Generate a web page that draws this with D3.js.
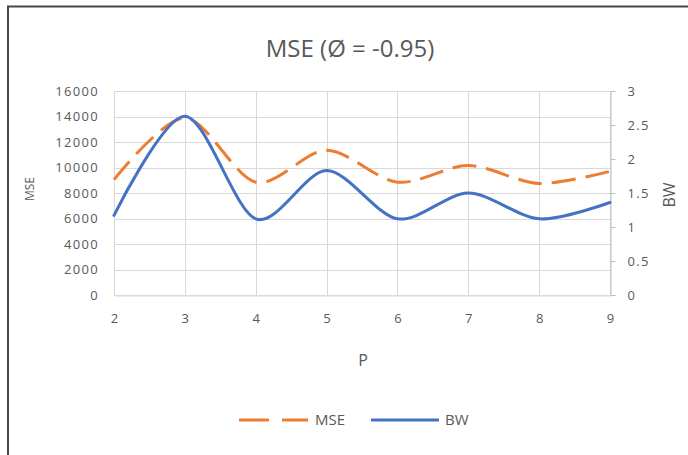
<!DOCTYPE html>
<html>
<head>
<meta charset="utf-8">
<script src="https://cdn.jsdelivr.net/npm/d3@7"></script>
<style>
html,body{margin:0;padding:0;background:#fff;}
svg{display:block;}
text{font-family:"Open Sans","Liberation Sans",sans-serif;fill:#595959;}
</style>
</head>
<body>
<svg id="chart" width="688" height="455"></svg>
<script>
const categories = [2, 3, 4, 5, 6, 7, 8, 9];
const mseValues = [9050, 13900, 8850, 11350, 8850, 10150, 8750, 9700];
const bwValues = [1.17, 2.63, 1.12, 1.83, 1.12, 1.50, 1.12, 1.36];
const leftTicks = [0, 2000, 4000, 6000, 8000, 10000, 12000, 14000, 16000];
const rightTicks = [0, 0.5, 1, 1.5, 2, 2.5, 3];
const titleText = "MSE (Ø = -0.95)";

const svg = d3.select("#chart");
const W = 688, H = 455;
const plot = {left: 114, right: 610, top: 91, bottom: 295};

// background + border
svg.append("rect").attr("x", 0).attr("y", 0).attr("width", W).attr("height", H).attr("fill", "#fff");
svg.append("rect").attr("x", 8).attr("y", 6.5).attr("width", W + 10).attr("height", H)
  .attr("fill", "none").attr("stroke", "#474747").attr("stroke-width", 2);

const x = d3.scaleLinear().domain([2, 9]).range([plot.left, plot.right]);
const yL = d3.scaleLinear().domain([0, 16000]).range([plot.bottom, plot.top]);
const yR = d3.scaleLinear().domain([0, 3]).range([plot.bottom, plot.top]);

// gridlines
const grid = svg.append("g");
grid.selectAll("line.h").data(leftTicks).join("line")
  .attr("x1", plot.left).attr("x2", plot.right)
  .attr("y1", d => Math.round(yL(d)) + 0.5).attr("y2", d => Math.round(yL(d)) + 0.5)
  .attr("stroke", "#d9d9d9").attr("stroke-width", 1);
grid.selectAll("line.v").data(categories).join("line")
  .attr("y1", plot.top).attr("y2", plot.bottom)
  .attr("x1", d => Math.round(x(d)) + 0.5).attr("x2", d => Math.round(x(d)) + 0.5)
  .attr("stroke", "#d9d9d9").attr("stroke-width", 1);

const tickStyle = sel => sel.selectAll("text")
  .style("font-size", "13px").style("letter-spacing", "1.3px").attr("fill", "#595959");

// left axis (labels only)
const leftAxis = svg.append("g").attr("transform", `translate(${plot.left},0)`)
  .call(d3.axisLeft(yL).tickValues(leftTicks).tickSize(0).tickPadding(15).tickFormat(d3.format("d")));
leftAxis.select(".domain").remove();
tickStyle(leftAxis);

// right axis
const rightAxis = svg.append("g").attr("transform", `translate(${Math.round(plot.right) + 0.5},0)`)
  .call(d3.axisRight(yR).tickValues(rightTicks).tickSize(5).tickPadding(12).tickFormat(d => d3.format("")(d)));
rightAxis.select(".domain").attr("stroke", "#bfbfbf");
rightAxis.selectAll(".tick line").attr("stroke", "#bfbfbf");
tickStyle(rightAxis);

// bottom axis
const bottomAxis = svg.append("g").attr("transform", `translate(0,${Math.round(plot.bottom) + 0.5})`)
  .call(d3.axisBottom(x).tickValues(categories).tickSize(0).tickPadding(18).tickFormat(d3.format("d")));
bottomAxis.select(".domain").attr("stroke", "#d9d9d9");
tickStyle(bottomAxis);
bottomAxis.selectAll("text").attr("dx", "0.6px");

// lines
const curve = d3.curveCardinal.tension(0.1);
const mseLine = d3.line().x((d, i) => x(categories[i])).y(d => yL(d)).curve(curve);
const bwLine = d3.line().x((d, i) => x(categories[i])).y(d => yR(d)).curve(curve);

svg.append("path").datum(mseValues).attr("d", mseLine)
  .attr("fill", "none").attr("stroke", "#ED7D31").attr("stroke-width", 3)
  .attr("stroke-dasharray", "24,10").attr("stroke-linecap", "butt");
svg.append("path").datum(bwValues).attr("d", bwLine)
  .attr("fill", "none").attr("stroke", "#4472C4").attr("stroke-width", 3)
  .attr("stroke-linecap", "round");

// title and axis titles
svg.append("text").attr("x", 350).attr("y", 57).attr("text-anchor", "middle")
  .style("font-size", "24px").text(titleText);
svg.append("text").attr("x", 363).attr("y", 366).attr("text-anchor", "middle")
  .style("font-size", "16px").text("P");
svg.append("text").attr("transform", "translate(34,189) rotate(-90)").attr("text-anchor", "middle")
  .style("font-size", "12px").text("MSE");
svg.append("text").attr("transform", "translate(675,195) rotate(-90)").attr("text-anchor", "middle")
  .style("font-size", "16px").text("BW");

// legend
const legY = 420;
const leg = svg.append("g");
leg.append("line").attr("x1", 239).attr("x2", 308).attr("y1", legY).attr("y2", legY)
  .attr("stroke", "#ED7D31").attr("stroke-width", 3).attr("stroke-dasharray", "30,13");
leg.append("text").attr("x", 315).attr("y", legY + 5).style("font-size", "15px").text("MSE");
leg.append("line").attr("x1", 371).attr("x2", 439).attr("y1", legY).attr("y2", legY)
  .attr("stroke", "#4472C4").attr("stroke-width", 3);
leg.append("text").attr("x", 445).attr("y", legY + 5).style("font-size", "15px").text("BW");
</script>
</body>
</html>
